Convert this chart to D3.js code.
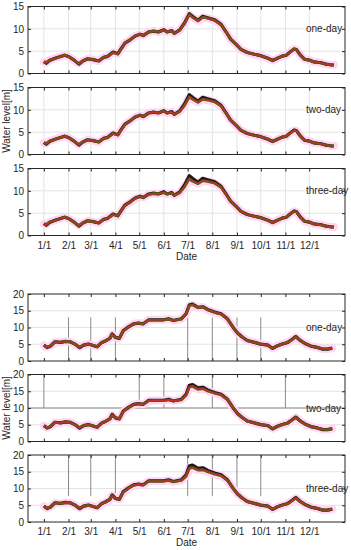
<!DOCTYPE html>
<html>
<head>
<meta charset="utf-8">
<script src="https://cdn.jsdelivr.net/npm/d3@7"></script>
<style>
  body { margin: 0; background: #fff; }
  text { font-family: "Liberation Sans", Arial, sans-serif; }
</style>
</head>
<body>
<div id="myVis"></div>
<script>
var w = 351;
var h = 550;

// month ticks (day of year) and labels
var monthDays = [0, 31, 59, 90, 120, 151, 181, 212, 243, 273, 304, 334];
var monthLabels = ["1/1", "2/1", "3/1", "4/1", "5/1", "6/1", "7/1", "8/1", "9/1", "10/1", "11/1", "12/1"];
var panelNames = ["one-day", "two-day", "three-day"];

// upper group (0-15 m)
var topDays = [0,3,7,14,21,26,31,38,44,49,55,62,69,75,80,87,93,97,102,109,115,121,125,132,138,144,151,155,161,164,171,177,183,187,194,200,206,215,223,229,235,242,248,256,265,273,282,288,294,300,305,309,315,318,323,328,334,340,349,355,361,365];
var topObs = [2.7,2.3,2.9,3.4,3.8,4.1,3.8,3.0,2.1,2.8,3.3,3.1,2.8,3.6,3.8,4.8,4.4,5.5,6.8,7.6,8.4,8.8,8.5,9.3,9.5,9.3,9.8,9.3,9.6,9.0,9.75,11.3,13.4,12.8,11.9,12.8,12.5,12.0,11.0,9.4,7.7,6.5,5.4,4.7,4.3,4.0,3.4,2.9,3.4,3.9,4.1,4.7,5.5,5.3,4.1,3.2,3.0,2.6,2.4,2.1,1.95,1.9];
var topPred1 = [2.6,2.4,3.0,3.4,3.8,4.1,3.8,3.0,2.2,2.8,3.3,3.1,2.8,3.6,3.8,4.7,4.4,5.4,6.8,7.6,8.4,8.8,8.5,9.3,9.5,9.3,9.7,9.3,9.6,9.0,9.7,11.2,13.2,12.6,11.8,12.6,12.4,11.9,10.9,9.4,7.7,6.5,5.4,4.7,4.3,4.0,3.4,2.9,3.4,3.9,4.1,4.7,5.5,5.3,4.1,3.2,3.0,2.6,2.4,2.1,1.95,1.9];
var topPred2 = [2.6,2.4,3.0,3.4,3.8,4.1,3.8,3.0,2.2,2.8,3.3,3.1,2.8,3.6,3.8,4.7,4.4,5.4,6.7,7.6,8.4,8.8,8.5,9.3,9.5,9.3,9.7,9.3,9.5,9.0,9.65,11.0,12.9,12.4,11.7,12.4,12.2,11.8,10.9,9.3,7.7,6.5,5.4,4.7,4.3,4.0,3.4,2.9,3.4,3.9,4.1,4.7,5.4,5.3,4.1,3.2,3.0,2.6,2.4,2.1,1.95,1.9];
var topPred3 = [2.6,2.4,3.0,3.4,3.8,4.1,3.8,3.0,2.2,2.8,3.3,3.1,2.8,3.6,3.8,4.7,4.4,5.4,6.7,7.5,8.3,8.7,8.5,9.2,9.4,9.3,9.6,9.3,9.5,9.0,9.6,10.9,12.7,12.2,11.6,12.3,12.1,11.7,10.8,9.3,7.7,6.5,5.4,4.7,4.3,4.0,3.4,2.9,3.4,3.9,4.1,4.7,5.4,5.3,4.1,3.2,3.0,2.6,2.4,2.1,1.95,1.9];

// lower group (0-20 m)
var botDays = [0,4,8,14,21,27,33,39,45,50,56,62,67,73,78,83,86,90,95,100,106,113,119,125,132,142,151,157,163,173,179,183,187,194,200,206,215,223,231,238,244,250,256,265,273,282,288,294,300,307,313,317,323,330,336,344,351,357,363];
var botObs = [4.75,4.0,4.4,5.75,5.55,5.85,5.75,5.05,4.0,4.75,5.05,4.65,4.25,5.55,6.05,6.75,8.1,7.05,6.75,9.1,10.1,11.1,11.3,11.1,12.3,12.3,12.3,12.6,12.1,12.6,14.1,16.7,17.0,16.0,16.2,15.4,14.6,14.1,12.6,10.1,8.3,7.1,6.1,5.55,5.05,4.75,3.75,4.55,5.05,5.55,6.55,7.3,6.05,5.05,4.45,4.05,3.55,3.55,3.85];
var botPred1 = [4.7,4.1,4.4,5.7,5.55,5.85,5.75,5.05,4.1,4.75,5.05,4.65,4.3,5.5,6.05,6.7,8.0,7.05,6.8,9.0,10.1,11.1,11.3,11.1,12.3,12.3,12.3,12.5,12.1,12.5,14.0,16.5,16.8,15.9,16.1,15.3,14.5,14.0,12.6,10.1,8.3,7.1,6.1,5.55,5.05,4.75,3.8,4.55,5.05,5.55,6.5,7.2,6.05,5.05,4.45,4.05,3.6,3.55,3.85];
var botPred2 = [4.7,4.1,4.4,5.7,5.55,5.85,5.75,5.05,4.1,4.75,5.05,4.65,4.3,5.5,6.0,6.7,7.95,7.1,6.8,9.0,10.0,11.0,11.3,11.1,12.2,12.3,12.2,12.45,12.1,12.45,13.8,16.2,16.5,15.6,15.8,15.1,14.4,13.9,12.5,10.1,8.3,7.1,6.1,5.55,5.05,4.75,3.8,4.5,5.05,5.5,6.5,7.2,6.05,5.05,4.45,4.05,3.6,3.55,3.85];
var botPred3 = [4.7,4.1,4.4,5.7,5.55,5.8,5.75,5.05,4.1,4.75,5.0,4.65,4.3,5.5,6.0,6.65,7.9,7.1,6.8,8.95,10.0,11.0,11.2,11.1,12.2,12.2,12.2,12.4,12.0,12.4,13.7,16.0,16.3,15.5,15.6,15.0,14.3,13.85,12.45,10.1,8.3,7.1,6.1,5.55,5.05,4.75,3.8,4.5,5.0,5.5,6.45,7.15,6.05,5.05,4.45,4.05,3.6,3.55,3.85];

var topTicks = [0, 5, 10, 15];
var botTicks = [0, 5, 10, 15, 20];

// partial dark grid lines seen in the lower panels: month indices and level span
var gridSegs = [
  { panel: 3, months: [1, 2, 3, 6, 7, 8, 9], from: 0, to: 13 },
  { panel: 4, months: [0, 4, 5, 7, 10], from: 10, to: 20 },
  { panel: 5, months: [1, 2, 3, 6, 7, 8, 9], from: 7.7, to: 20 }
];

var svg = d3.select("#myVis").append("svg")
  .attr("width", w)
  .attr("height", h)
  .style("background-color", "white");

var x = d3.scaleLinear().domain([-20, 379]).range([28, 345]);
var panelH = 67;
var panelTops = [6.5, 87.5, 168.5, 294, 374.5, 455];

var panels = [
  { days: topDays, obs: topObs, pred: topPred1, ticks: topTicks, max: 15 },
  { days: topDays, obs: topObs, pred: topPred2, ticks: topTicks, max: 15 },
  { days: topDays, obs: topObs, pred: topPred3, ticks: topTicks, max: 15 },
  { days: botDays, obs: botObs, pred: botPred1, ticks: botTicks, max: 20 },
  { days: botDays, obs: botObs, pred: botPred2, ticks: botTicks, max: 20 },
  { days: botDays, obs: botObs, pred: botPred3, ticks: botTicks, max: 20 }
];

function draw() {
  panels.forEach(function(p, i) {
    var top = panelTops[i];
    var y = d3.scaleLinear().domain([0, p.max]).range([top + panelH, top]);
    var g = svg.append("g");

    // grid
    g.selectAll(".hg").data(p.ticks.slice(1, -1)).enter().append("line")
      .attr("x1", x.range()[0]).attr("x2", x.range()[1])
      .attr("y1", function(d) { return y(d); }).attr("y2", function(d) { return y(d); })
      .attr("stroke", "#e3e3e3").attr("stroke-width", 1);
    if (i < 3) {
      g.selectAll(".vg").data(monthDays).enter().append("line")
        .attr("x1", function(d) { return x(d); }).attr("x2", function(d) { return x(d); })
        .attr("y1", top).attr("y2", top + panelH)
        .attr("stroke", "#e3e3e3").attr("stroke-width", 1);
    }
    gridSegs.filter(function(s) { return s.panel === i; }).forEach(function(s) {
      g.selectAll(null).data(s.months).enter().append("line")
        .attr("x1", function(m) { return x(monthDays[m]); })
        .attr("x2", function(m) { return x(monthDays[m]); })
        .attr("y1", y(s.from)).attr("y2", y(s.to))
        .attr("stroke", "#8a8a8a").attr("stroke-width", 1);
    });
    if (i === 4) {
      g.append("line")
        .attr("x1", x.range()[0]).attr("x2", x.range()[1])
        .attr("y1", y(10)).attr("y2", y(10))
        .attr("stroke", "#8a8a8a").attr("stroke-width", 1);
    }

    var line = function(vals) {
      return d3.line()
        .x(function(d, k) { return x(p.days[k]); })
        .y(function(d) { return y(d); })(vals);
    };

    // halo, observed, predicted
    g.append("path").attr("d", line(p.pred))
      .attr("fill", "none").attr("stroke", "#ffd6f4").attr("stroke-width", 8)
      .attr("stroke-linejoin", "round").attr("stroke-linecap", "round");
    g.append("path").attr("d", line(p.obs))
      .attr("fill", "none").attr("stroke", "#1a1a1a").attr("stroke-width", 3.2)
      .attr("stroke-linejoin", "round");
    g.append("path").attr("d", line(p.pred))
      .attr("fill", "none").attr("stroke", "#55561a").attr("stroke-width", 2.8)
      .attr("stroke-linejoin", "round");
    g.append("path").attr("d", line(p.pred))
      .attr("fill", "none").attr("stroke", "#c9301c").attr("stroke-width", 1.3)
      .attr("stroke-linejoin", "round");

    // axes, ticks inward
    g.append("g").attr("transform", "translate(0," + (top + panelH) + ")")
      .call(d3.axisBottom(x).tickValues(monthDays).tickSize(-3).tickPadding(6)
        .tickFormat(function(d, k) { return (i === 2 || i === 5) ? monthLabels[k] : ""; }));
    g.append("g").attr("transform", "translate(0," + top + ")")
      .call(d3.axisTop(x).tickValues(monthDays).tickSize(-3).tickFormat(""));
    g.append("g").attr("transform", "translate(" + x.range()[0] + ",0)")
      .call(d3.axisLeft(y).tickValues(p.ticks).tickSize(-3).tickPadding(4));
    g.append("g").attr("transform", "translate(" + x.range()[1] + ",0)")
      .call(d3.axisRight(y).tickValues(p.ticks).tickSize(-3).tickFormat(""));

    g.selectAll(".domain").remove();
    g.selectAll(".tick line").attr("stroke", "#262626");
    g.selectAll(".tick text").attr("fill", "#262626").style("font-size", "10px")
      .style("font-family", "'Liberation Sans', Arial, sans-serif");

    g.append("rect")
      .attr("x", x.range()[0]).attr("y", top)
      .attr("width", x.range()[1] - x.range()[0]).attr("height", panelH)
      .attr("fill", "none").attr("stroke", "#262626").attr("stroke-width", 1);

    g.append("text")
      .attr("x", 306).attr("y", y(10))
      .attr("dy", "0.35em")
      .attr("font-size", "10px").attr("fill", "#262626")
      .text(panelNames[i % 3]);
  });

  // shared labels
  [1, 4].forEach(function(i) {
    svg.append("text")
      .attr("transform", "translate(10," + (panelTops[i] + panelH / 2) + ") rotate(-90)")
      .attr("text-anchor", "middle")
      .attr("font-size", "10px").attr("fill", "#262626")
      .text("Water level[m]");
  });
  [2, 5].forEach(function(i) {
    svg.append("text")
      .attr("x", (x.range()[0] + x.range()[1]) / 2)
      .attr("y", panelTops[i] + panelH + 24)
      .attr("text-anchor", "middle")
      .attr("font-size", "10px").attr("fill", "#262626")
      .text("Date");
  });
}

draw();
</script>
</body>
</html>
